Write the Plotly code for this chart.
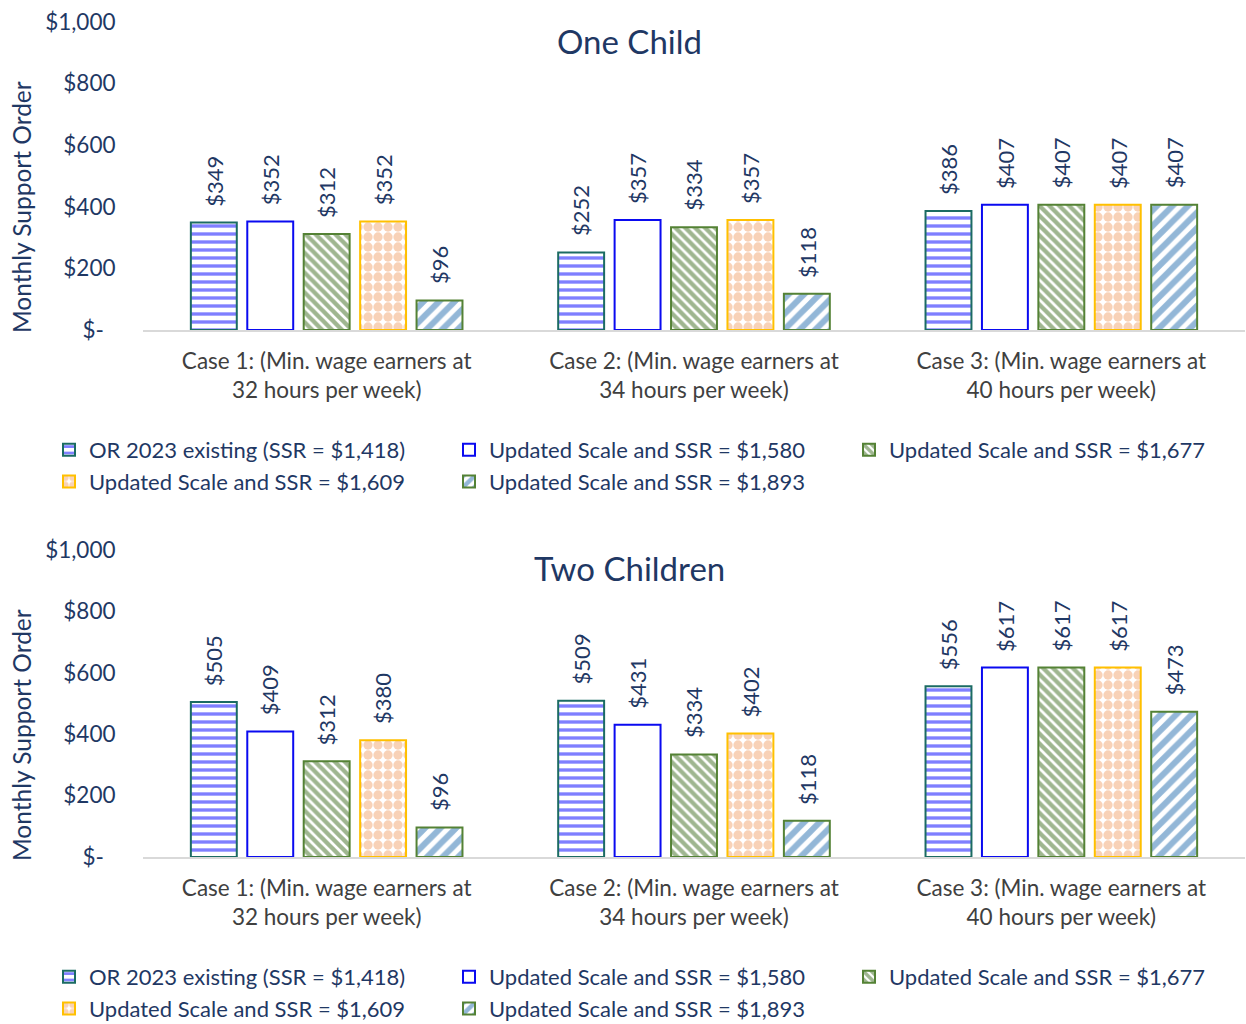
import plotly.graph_objects as go

# ---- data ----
case_labels = [
    "Case 1: (Min. wage earners at<br>32 hours per week)",
    "Case 2: (Min. wage earners at<br>34 hours per week)",
    "Case 3: (Min. wage earners at<br>40 hours per week)",
]
series_names = [
    "OR 2023 existing (SSR = $1,418)",
    "Updated Scale and SSR = $1,580",
    "Updated Scale and SSR = $1,677",
    "Updated Scale and SSR = $1,609",
    "Updated Scale and SSR = $1,893",
]

# One child: one list per series, values for Case 1..3
one_or2023 = [349, 252, 386]
one_ssr1580 = [352, 357, 407]
one_ssr1677 = [312, 334, 407]
one_ssr1609 = [352, 357, 407]
one_ssr1893 = [96, 118, 407]

# Two children
two_or2023 = [505, 509, 556]
two_ssr1580 = [409, 431, 617]
two_ssr1677 = [312, 334, 617]
two_ssr1609 = [380, 402, 617]
two_ssr1893 = [96, 118, 473]

y_tick_vals = [0, 200, 400, 600, 800, 1000]
y_tick_text = ["$-\u00a0\u00a0", "$200", "$400", "$600", "$800", "$1,000"]

panels = [
    ("One Child", [one_or2023, one_ssr1580, one_ssr1677, one_ssr1609, one_ssr1893]),
    ("Two Children", [two_or2023, two_ssr1580, two_ssr1677, two_ssr1609, two_ssr1893]),
]

# ---- styling ----
W, H = 1246, 1024
NAVY = "#1F3864"
FONT = "Lato"
BARGAP = 0.232
BARGROUPGAP = 0.186

styles = [
    dict(line="#1B6B63", pattern=dict(shape="-", fgcolor="#0000FF", bgcolor="white", size=8, solidity=0.42)),
    dict(line="#0A0AF0", pattern=dict(shape="", fgcolor="white", bgcolor="white")),
    dict(line="#548235", pattern=dict(shape="\\", fgcolor="#3F6E22", bgcolor="white", size=7, solidity=0.62)),
    dict(line="#FFC000", pattern=dict(shape=".", fgcolor="#F2A66F", bgcolor="white", size=10, solidity=0.68)),
    dict(line="#548235", pattern=dict(shape="/", fgcolor="#2870B0", bgcolor="white", size=11, solidity=0.55)),
]


def px_x(p):
    return p / W


def px_y(p):
    return 1 - p / H


# pixel layout of each panel: top of $1,000, bottom at $0, legend top, titles
panel_px = [
    dict(top=22, bottom=330, legend=429, title=41, ytitle=207),
    dict(top=550, bottom=857, legend=956, title=568, ytitle=735),
]

fig = go.Figure()
annotations = []
n_series = len(series_names)
slot = (1 - BARGAP) / n_series
x_pos = list(range(len(case_labels)))

for k, (title, series) in enumerate(panels):
    sfx = "" if k == 0 else str(k + 1)
    for j, (name, vals) in enumerate(zip(series_names, series)):
        st = styles[j]
        fig.add_trace(go.Bar(
            x=x_pos, y=vals, name=name,
            xaxis="x" + sfx, yaxis="y" + sfx,
            legend="legend" + sfx,
            marker=dict(color="white", line=dict(color=st["line"], width=2),
                        pattern=st["pattern"]),
            hoverinfo="skip",
        ))
        for i, v in enumerate(vals):
            annotations.append(dict(
                x=i + (j - (n_series - 1) / 2) * slot, y=v,
                xref="x" + sfx, yref="y" + sfx,
                text=f"${v}", textangle=-90, showarrow=False,
                xanchor="center", yanchor="bottom", yshift=14,
                font=dict(family=FONT, size=22, color=NAVY),
            ))
    p = panel_px[k]
    annotations.append(dict(
        x=px_x(629), y=px_y(p["title"]), xref="paper", yref="paper",
        text=title, showarrow=False, xanchor="center", yanchor="middle",
        font=dict(family=FONT, size=33, color=NAVY),
    ))
    annotations.append(dict(
        x=px_x(21), y=px_y(p["ytitle"]), xref="paper", yref="paper",
        text="Monthly Support Order", textangle=-90, showarrow=False,
        xanchor="center", yanchor="middle",
        font=dict(family=FONT, size=24.5, color=NAVY),
    ))

layout = dict(
    width=W, height=H,
    margin=dict(l=0, r=0, t=0, b=0, autoexpand=False),
    paper_bgcolor="white", plot_bgcolor="white",
    barmode="group", bargap=BARGAP, bargroupgap=BARGROUPGAP,
    annotations=annotations,
    font=dict(family=FONT, color=NAVY),
)

for k in range(2):
    sfx = "" if k == 0 else str(k + 1)
    p = panel_px[k]
    layout["xaxis" + sfx] = dict(
        domain=[px_x(143), px_x(1245)], range=[-0.5, 2.5],
        anchor="y" + sfx, automargin=False,
        tickvals=x_pos, ticktext=case_labels,
        showline=True, linecolor="#D9D9D9", linewidth=2,
        showgrid=False, zeroline=False,
        ticks="outside", ticklen=10, tickcolor="rgba(0,0,0,0)",
        tickfont=dict(family=FONT, size=22.5, color="#404040"),
    )
    layout["yaxis" + sfx] = dict(
        domain=[px_y(p["bottom"]), px_y(p["top"])], range=[0, 1000],
        anchor="x" + sfx, automargin=False,
        tickvals=y_tick_vals, ticktext=y_tick_text,
        showline=False, showgrid=False, zeroline=False,
        ticks="outside", ticklen=22, tickcolor="rgba(0,0,0,0)",
        tickfont=dict(family=FONT, size=22.5, color=NAVY),
    )
    layout["legend" + sfx] = dict(
        orientation="h", x=px_x(49), y=px_y(p["legend"]),
        xanchor="left", yanchor="top",
        entrywidth=355, bgcolor="rgba(0,0,0,0)",
        font=dict(family=FONT, size=22, color=NAVY),
        traceorder="normal",
    )

fig.update_layout(**layout)
fig.write_html("out.html")
